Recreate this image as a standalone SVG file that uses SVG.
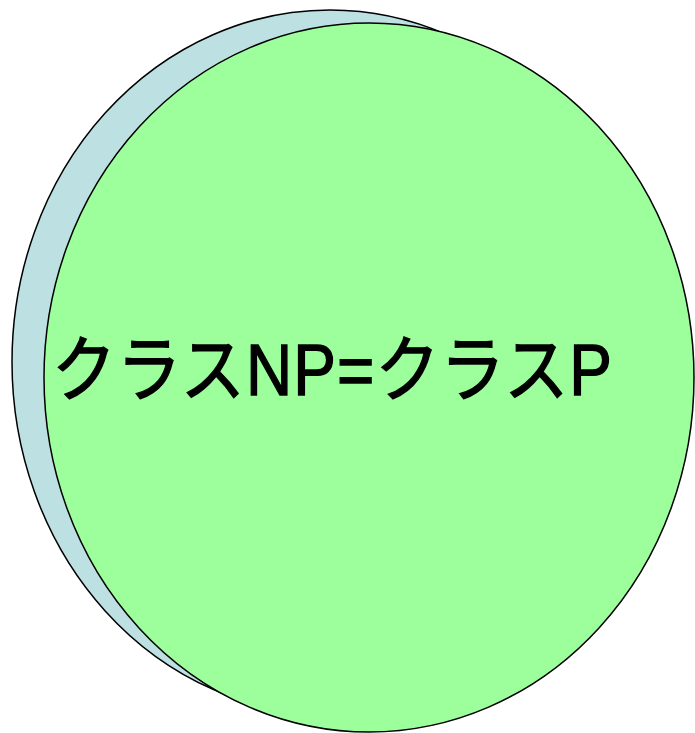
<svg xmlns="http://www.w3.org/2000/svg" width="695" height="733" viewBox="0 0 695 733">
<style>
.shape{stroke:#000;stroke-width:1.5}
.label{font-family:"Liberation Sans","Noto Sans CJK JP",sans-serif;font-size:64px;fill:#000;stroke:#000;stroke-width:1.2}
</style>
<rect width="695" height="733" fill="#fff"/>
<g id="back">
<ellipse class="shape" cx="330" cy="362" rx="318" ry="352" fill="#BDE0E3"/>
</g>
<g id="front">
<ellipse class="shape" cx="369" cy="377.5" rx="325" ry="354.5" fill="#9CFF9C"/>
<text class="label" x="52" y="0" transform="translate(0,395) scale(1,1.12)" textLength="560" lengthAdjust="spacing">クラスNP=クラスP</text>
</g>
</svg>
